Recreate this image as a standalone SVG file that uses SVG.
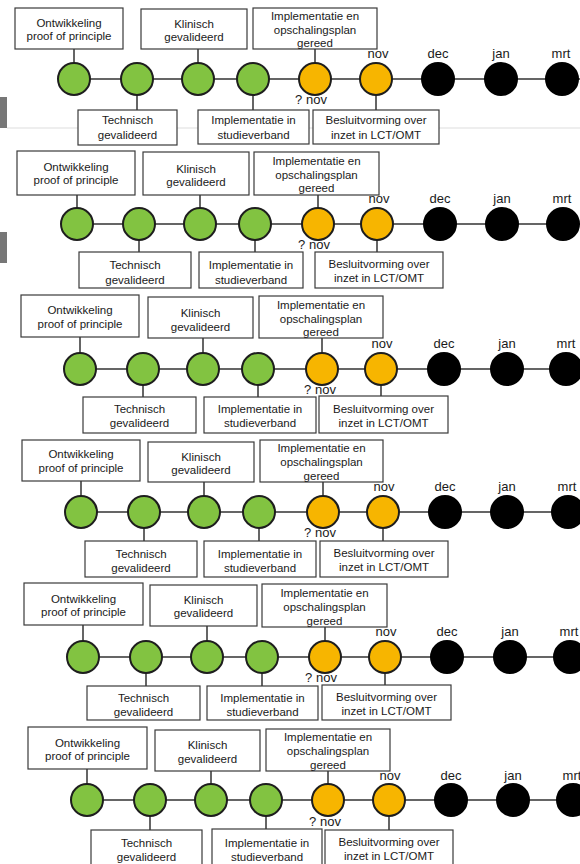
<svg xmlns="http://www.w3.org/2000/svg" width="580" height="864" viewBox="0 0 580 864">
<style>
.bx{fill:#fff;stroke:#3a3a3a;stroke-width:1.2}
.t{font-family:"Liberation Sans",Arial,sans-serif;font-size:11.5px;fill:#1a1a1a;text-anchor:middle}
.m{font-family:"Liberation Sans",Arial,sans-serif;font-size:13px;fill:#1a1a1a;text-anchor:middle}
.g{fill:#82c341;stroke:#1e1e1e;stroke-width:2}
.y{fill:#f7b500;stroke:#1e1e1e;stroke-width:2}
.k{fill:#000;stroke:#000;stroke-width:2}
.ln{stroke:#333;stroke-width:1.5;fill:none}
</style>
<rect width="580" height="864" fill="#fff"/>
<g id="decor">
<rect x="0" y="97" width="7" height="31" fill="#777"/>
<line x1="7" y1="128" x2="580" y2="128" stroke="#ddd" stroke-width="1"/>
<rect x="0" y="232" width="7" height="31" fill="#777"/>
</g>
<g id="connectors" class="ln">
<path d="M74 79H580M74 49V63M198 49V63M315 49V63M137 95V110M253 95V110M376 95V110"/>
<path d="M77 224H580M77 195V208M200 195V208M318 195V208M139 240V252M255 240V252M377 240V252"/>
<path d="M80 369H580M80 337V353M203 338V353M322 338V353M143 385V397M258 385V397M381 385V396"/>
<path d="M81 512H580M81 481V496M204 482V496M323 482V496M144 528V541M259 528V541M383 528V541"/>
<path d="M83 657H580M83 625V641M207 626V641M325 627V641M146 673V686M262 673V686M385 673V685"/>
<path d="M87 800H580M87 769V784M211 771V784M328 771V784M150 816V830M266 816V829M389 816V830"/>
</g>
<g id="panel1">
<g id="p1-ontwikkeling"><rect class="bx" x="15" y="8" width="108" height="41"/><text class="t" x="69" y="27">Ontwikkeling</text><text class="t" x="69" y="40">proof of principle</text></g>
<g id="p1-klinisch"><rect class="bx" x="141" y="9" width="106" height="40"/><text class="t" x="194" y="28">Klinisch</text><text class="t" x="194" y="41">gevalideerd</text></g>
<g id="p1-opschaling"><rect class="bx" x="253" y="8" width="124" height="41"/><text class="t" x="315" y="20">Implementatie en</text><text class="t" x="315" y="33.5">opschalingsplan</text><text class="t" x="315" y="47">gereed</text></g>
<g id="p1-technisch"><rect class="bx" x="78" y="110" width="99" height="35"/><text class="t" x="127.5" y="124">Technisch</text><text class="t" x="127.5" y="139">gevalideerd</text></g>
<g id="p1-studie"><rect class="bx" x="198" y="110" width="111" height="34"/><text class="t" x="253.5" y="124">Implementatie in</text><text class="t" x="253.5" y="139">studieverband</text></g>
<g id="p1-besluit"><rect class="bx" x="313" y="110" width="126" height="34"/><text class="t" x="376" y="124">Besluitvorming over</text><text class="t" x="376" y="139">inzet in LCT/OMT</text></g>
<g id="p1-m1"><circle class="g" cx="74" cy="79" r="16"/></g>
<g id="p1-m2"><circle class="g" cx="137" cy="79" r="16"/></g>
<g id="p1-m3"><circle class="g" cx="198" cy="79" r="16"/></g>
<g id="p1-m4"><circle class="g" cx="253" cy="79" r="16"/></g>
<g id="p1-m5"><circle class="y" cx="315" cy="79" r="16"/><text class="m" x="311" y="104">? nov</text></g>
<g id="p1-m6"><circle class="y" cx="376" cy="79" r="16"/><text class="m" x="378" y="58">nov</text></g>
<g id="p1-m7"><circle class="k" cx="438" cy="79" r="16"/><text class="m" x="438" y="58">dec</text></g>
<g id="p1-m8"><circle class="k" cx="501" cy="79" r="16"/><text class="m" x="501" y="58">jan</text></g>
<g id="p1-m9"><circle class="k" cx="562" cy="79" r="16"/><text class="m" x="561" y="58">mrt</text></g>
</g>
<g id="panel2">
<g id="p2-ontwikkeling"><rect class="bx" x="17" y="151" width="118" height="44"/><text class="t" x="76" y="171">Ontwikkeling</text><text class="t" x="76" y="184">proof of principle</text></g>
<g id="p2-klinisch"><rect class="bx" x="143" y="152" width="106" height="43"/><text class="t" x="196" y="173">Klinisch</text><text class="t" x="196" y="186">gevalideerd</text></g>
<g id="p2-opschaling"><rect class="bx" x="254" y="152" width="125" height="43"/><text class="t" x="316.5" y="165">Implementatie en</text><text class="t" x="316.5" y="178.5">opschalingsplan</text><text class="t" x="316.5" y="192">gereed</text></g>
<g id="p2-technisch"><rect class="bx" x="79" y="252" width="112" height="36"/><text class="t" x="135" y="269">Technisch</text><text class="t" x="135" y="284">gevalideerd</text></g>
<g id="p2-studie"><rect class="bx" x="199" y="252" width="104" height="36"/><text class="t" x="251" y="269">Implementatie in</text><text class="t" x="251" y="284">studieverband</text></g>
<g id="p2-besluit"><rect class="bx" x="315" y="252" width="128" height="36"/><text class="t" x="379" y="268">Besluitvorming over</text><text class="t" x="379" y="282">inzet in LCT/OMT</text></g>
<g id="p2-m1"><circle class="g" cx="77" cy="224" r="16"/></g>
<g id="p2-m2"><circle class="g" cx="139" cy="224" r="16"/></g>
<g id="p2-m3"><circle class="g" cx="200" cy="224" r="16"/></g>
<g id="p2-m4"><circle class="g" cx="255" cy="224" r="16"/></g>
<g id="p2-m5"><circle class="y" cx="318" cy="224" r="16"/><text class="m" x="314" y="249">? nov</text></g>
<g id="p2-m6"><circle class="y" cx="377" cy="224" r="16"/><text class="m" x="379" y="203">nov</text></g>
<g id="p2-m7"><circle class="k" cx="440" cy="224" r="16"/><text class="m" x="440" y="203">dec</text></g>
<g id="p2-m8"><circle class="k" cx="502" cy="224" r="16"/><text class="m" x="502" y="203">jan</text></g>
<g id="p2-m9"><circle class="k" cx="563" cy="224" r="16"/><text class="m" x="562" y="203">mrt</text></g>
</g>
<g id="panel3">
<g id="p3-ontwikkeling"><rect class="bx" x="21" y="295" width="118" height="42"/><text class="t" x="80" y="314">Ontwikkeling</text><text class="t" x="80" y="328">proof of principle</text></g>
<g id="p3-klinisch"><rect class="bx" x="148" y="297" width="105" height="41"/><text class="t" x="200.5" y="317">Klinisch</text><text class="t" x="200.5" y="331">gevalideerd</text></g>
<g id="p3-opschaling"><rect class="bx" x="259" y="296" width="124" height="42"/><text class="t" x="321" y="309">Implementatie en</text><text class="t" x="321" y="322.5">opschalingsplan</text><text class="t" x="321" y="336">gereed</text></g>
<g id="p3-technisch"><rect class="bx" x="83" y="397" width="113" height="36"/><text class="t" x="139.5" y="413">Technisch</text><text class="t" x="139.5" y="427">gevalideerd</text></g>
<g id="p3-studie"><rect class="bx" x="204" y="397" width="112" height="36"/><text class="t" x="260" y="413">Implementatie in</text><text class="t" x="260" y="427">studieverband</text></g>
<g id="p3-besluit"><rect class="bx" x="319" y="396" width="129" height="37"/><text class="t" x="383.5" y="413">Besluitvorming over</text><text class="t" x="383.5" y="427">inzet in LCT/OMT</text></g>
<g id="p3-m1"><circle class="g" cx="80" cy="369" r="16"/></g>
<g id="p3-m2"><circle class="g" cx="143" cy="369" r="16"/></g>
<g id="p3-m3"><circle class="g" cx="203" cy="369" r="16"/></g>
<g id="p3-m4"><circle class="g" cx="258" cy="369" r="16"/></g>
<g id="p3-m5"><circle class="y" cx="322" cy="369" r="16"/><text class="m" x="320" y="394">? nov</text></g>
<g id="p3-m6"><circle class="y" cx="381" cy="369" r="16"/><text class="m" x="382" y="348">nov</text></g>
<g id="p3-m7"><circle class="k" cx="444" cy="369" r="16"/><text class="m" x="444" y="348">dec</text></g>
<g id="p3-m8"><circle class="k" cx="507" cy="369" r="16"/><text class="m" x="507" y="348">jan</text></g>
<g id="p3-m9"><circle class="k" cx="566" cy="369" r="16"/><text class="m" x="566" y="348">mrt</text></g>
</g>
<g id="panel4">
<g id="p4-ontwikkeling"><rect class="bx" x="22" y="440" width="118" height="41"/><text class="t" x="81" y="458">Ontwikkeling</text><text class="t" x="81" y="472">proof of principle</text></g>
<g id="p4-klinisch"><rect class="bx" x="148" y="442" width="106" height="40"/><text class="t" x="201" y="461">Klinisch</text><text class="t" x="201" y="474">gevalideerd</text></g>
<g id="p4-opschaling"><rect class="bx" x="260" y="440" width="123" height="42"/><text class="t" x="321.5" y="452">Implementatie en</text><text class="t" x="321.5" y="466">opschalingsplan</text><text class="t" x="321.5" y="480">gereed</text></g>
<g id="p4-technisch"><rect class="bx" x="85" y="541" width="112" height="36"/><text class="t" x="141" y="558">Technisch</text><text class="t" x="141" y="572">gevalideerd</text></g>
<g id="p4-studie"><rect class="bx" x="204" y="541" width="112" height="36"/><text class="t" x="260" y="558">Implementatie in</text><text class="t" x="260" y="572">studieverband</text></g>
<g id="p4-besluit"><rect class="bx" x="320" y="541" width="128" height="36"/><text class="t" x="384" y="557">Besluitvorming over</text><text class="t" x="384" y="571">inzet in LCT/OMT</text></g>
<g id="p4-m1"><circle class="g" cx="81" cy="512" r="16"/></g>
<g id="p4-m2"><circle class="g" cx="144" cy="512" r="16"/></g>
<g id="p4-m3"><circle class="g" cx="204" cy="512" r="16"/></g>
<g id="p4-m4"><circle class="g" cx="259" cy="512" r="16"/></g>
<g id="p4-m5"><circle class="y" cx="323" cy="512" r="16"/><text class="m" x="320" y="537">? nov</text></g>
<g id="p4-m6"><circle class="y" cx="383" cy="512" r="16"/><text class="m" x="384" y="491">nov</text></g>
<g id="p4-m7"><circle class="k" cx="445" cy="512" r="16"/><text class="m" x="445" y="491">dec</text></g>
<g id="p4-m8"><circle class="k" cx="507" cy="512" r="16"/><text class="m" x="507" y="491">jan</text></g>
<g id="p4-m9"><circle class="k" cx="568" cy="512" r="16"/><text class="m" x="567" y="491">mrt</text></g>
</g>
<g id="panel5">
<g id="p5-ontwikkeling"><rect class="bx" x="24" y="583" width="119" height="42"/><text class="t" x="83.5" y="603">Ontwikkeling</text><text class="t" x="83.5" y="616">proof of principle</text></g>
<g id="p5-klinisch"><rect class="bx" x="150" y="585" width="107" height="41"/><text class="t" x="203.5" y="604">Klinisch</text><text class="t" x="203.5" y="617">gevalideerd</text></g>
<g id="p5-opschaling"><rect class="bx" x="262" y="584" width="125" height="43"/><text class="t" x="324.5" y="597">Implementatie en</text><text class="t" x="324.5" y="611">opschalingsplan</text><text class="t" x="324.5" y="625">gereed</text></g>
<g id="p5-technisch"><rect class="bx" x="87" y="686" width="113" height="34"/><text class="t" x="143.5" y="702">Technisch</text><text class="t" x="143.5" y="716">gevalideerd</text></g>
<g id="p5-studie"><rect class="bx" x="207" y="686" width="111" height="34"/><text class="t" x="262.5" y="702">Implementatie in</text><text class="t" x="262.5" y="716">studieverband</text></g>
<g id="p5-besluit"><rect class="bx" x="322" y="685" width="129" height="35"/><text class="t" x="386.5" y="701">Besluitvorming over</text><text class="t" x="386.5" y="715">inzet in LCT/OMT</text></g>
<g id="p5-m1"><circle class="g" cx="83" cy="657" r="16"/></g>
<g id="p5-m2"><circle class="g" cx="146" cy="657" r="16"/></g>
<g id="p5-m3"><circle class="g" cx="207" cy="657" r="16"/></g>
<g id="p5-m4"><circle class="g" cx="262" cy="657" r="16"/></g>
<g id="p5-m5"><circle class="y" cx="325" cy="657" r="16"/><text class="m" x="321" y="682">? nov</text></g>
<g id="p5-m6"><circle class="y" cx="385" cy="657" r="16"/><text class="m" x="386" y="636">nov</text></g>
<g id="p5-m7"><circle class="k" cx="447" cy="657" r="16"/><text class="m" x="447" y="636">dec</text></g>
<g id="p5-m8"><circle class="k" cx="510" cy="657" r="16"/><text class="m" x="510" y="636">jan</text></g>
<g id="p5-m9"><circle class="k" cx="570" cy="657" r="16"/><text class="m" x="569" y="636">mrt</text></g>
</g>
<g id="panel6">
<g id="p6-ontwikkeling"><rect class="bx" x="28" y="727" width="119" height="42"/><text class="t" x="87.5" y="747">Ontwikkeling</text><text class="t" x="87.5" y="760">proof of principle</text></g>
<g id="p6-klinisch"><rect class="bx" x="155" y="730" width="105" height="41"/><text class="t" x="207.5" y="749">Klinisch</text><text class="t" x="207.5" y="763">gevalideerd</text></g>
<g id="p6-opschaling"><rect class="bx" x="266" y="729" width="124" height="42"/><text class="t" x="328" y="741">Implementatie en</text><text class="t" x="328" y="755">opschalingsplan</text><text class="t" x="328" y="769">gereed</text></g>
<g id="p6-technisch"><rect class="bx" x="91" y="830" width="111" height="40"/><text class="t" x="146.5" y="847">Technisch</text><text class="t" x="146.5" y="861">gevalideerd</text></g>
<g id="p6-studie"><rect class="bx" x="212" y="829" width="110" height="40"/><text class="t" x="267" y="847">Implementatie in</text><text class="t" x="267" y="861">studieverband</text></g>
<g id="p6-besluit"><rect class="bx" x="325" y="830" width="128" height="40"/><text class="t" x="389" y="846">Besluitvorming over</text><text class="t" x="389" y="860">inzet in LCT/OMT</text></g>
<g id="p6-m1"><circle class="g" cx="87" cy="800" r="16"/></g>
<g id="p6-m2"><circle class="g" cx="150" cy="800" r="16"/></g>
<g id="p6-m3"><circle class="g" cx="211" cy="800" r="16"/></g>
<g id="p6-m4"><circle class="g" cx="266" cy="800" r="16"/></g>
<g id="p6-m5"><circle class="y" cx="328" cy="800" r="16"/><text class="m" x="325" y="826">? nov</text></g>
<g id="p6-m6"><circle class="y" cx="389" cy="800" r="16"/><text class="m" x="390" y="780">nov</text></g>
<g id="p6-m7"><circle class="k" cx="451" cy="800" r="16"/><text class="m" x="451" y="780">dec</text></g>
<g id="p6-m8"><circle class="k" cx="513" cy="800" r="16"/><text class="m" x="513" y="780">jan</text></g>
<g id="p6-m9"><circle class="k" cx="573" cy="800" r="16"/><text class="m" x="572" y="780">mrt</text></g>
</g>
</svg>
